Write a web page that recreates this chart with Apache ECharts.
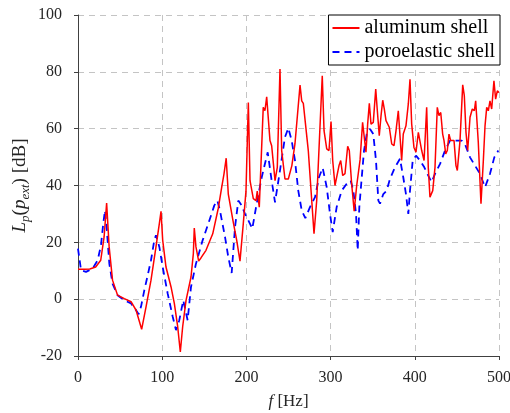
<!DOCTYPE html>
<html>
<head>
<meta charset="utf-8">
<script src="https://cdn.jsdelivr.net/npm/echarts@6/dist/echarts.min.js"></script>
<style>html,body{margin:0;padding:0;background:#fff;}#c{width:510px;height:413px;}</style>
</head>
<body>
<div id="c"></div>
<script>
var xTicks = [0, 100, 200, 300, 400, 500];
var yTicks = [-20, 0, 20, 40, 60, 80, 100];
var seriesNames = ['aluminum shell', 'poroelastic shell'];

var aluminumShell = [
[0,10.5],[8,10.5],[14,10.6],[21,11.3],[27,13.7],[31,21.9],[34,33.8],[37,18.4],[41,6.7],[47,1.4],[55,0.2],[63,-0.9],[69,-3.9],[75.6,-10.6],[80.8,-2.7],[86.7,6.7],[92.6,18.4],[96.6,26.6],[98.6,30.9],[100.6,20.7],[104.5,11.3],[110.5,4.3],[114.4,-1.5],[118.4,-9.7],[121.5,-18.6],[124.3,-9.7],[128.3,-0.4],[134.2,7.8],[137,16],[138.1,25],[140.1,18.4],[143.3,13.4],[146,14.5],[152,17.2],[160,23],[166.6,32],[170.7,39.4],[173.4,44.1],[176,49.6],[178.5,37],[184,27.7],[188.5,20.7],[192.4,13.4],[196.3,26.6],[199.5,38],[202.3,69.2],[204.3,41.7],[208.2,35.4],[211.4,34.7],[212.9,38],[215.3,32.4],[220,67.5],[222,66.3],[224.1,71.2],[228,55.8],[230,54],[234,41.7],[236.7,46.4],[239.9,81],[241.9,52.3],[245.8,42.3],[249.8,42.3],[254,47],[257.7,54.7],[263.7,75.3],[265.7,69.8],[267.6,68.9],[273.5,52.3],[277.6,34.7],[280.3,23],[283.5,34.7],[290.1,78.6],[292.2,59.3],[295.4,52.9],[298.1,52.3],[300.5,62.5],[302.5,48.8],[305.2,40],[307.2,40],[310,47],[312,48.8],[314.4,43.5],[317.1,44.2],[320.3,53.8],[322.2,52.3],[325,40.6],[328,31],[331,40],[335,49],[338,62.2],[340,62.8],[342,51.7],[344,61.6],[346,68.9],[348,61.6],[350.7,62.2],[353.6,73.9],[355.5,66.3],[357.8,57.5],[359.9,64.6],[361.9,70],[363.8,66.9],[365.8,62.8],[367.8,63.4],[369.7,60.5],[372.6,54.6],[375.3,54],[377.7,59.3],[380.4,66.3],[382.4,66.3],[384.4,48.8],[386.3,58.1],[389.5,61],[392.3,68.7],[394.3,77.4],[396.3,61.6],[399,53.4],[401.4,51.7],[404.2,58.7],[406.2,58.7],[408.2,52.3],[411,48.8],[414.1,67.5],[416,46.4],[418,35.9],[421.3,38.2],[424,46.4],[426.7,67.5],[428.7,64.6],[430.8,65.7],[433.1,58.1],[434.7,55.8],[436.7,51.1],[438.6,52.3],[440.6,58.1],[442.6,55.8],[444.5,56],[446.6,55.8],[448.9,47],[450.5,45.3],[453.7,55.8],[456.9,75.4],[458.8,71.6],[460.8,58.7],[462.8,52.3],[465.6,64],[468.3,66.9],[470.7,66.3],[472.3,69.8],[473.5,69.2],[475.4,55.2],[478.6,33.6],[481.4,48.8],[483.4,61],[485.4,67.5],[487.3,66.3],[489.3,69.8],[491.3,66.9],[494,76.8],[496,70.4],[498,73.3],[500,72.7]
];

var poroelasticShell = [
[0,17.8],[3.6,10.2],[9.5,9.6],[17.5,10.8],[23.4,13.7],[27.3,19],[30,26.6],[32,31.2],[34,25.4],[37.2,12.5],[41,5.5],[47,1.4],[55,-0.4],[63,-1.5],[69,-3.9],[72,-5.3],[74.8,-2.7],[78.8,3.2],[82.8,8.4],[86.7,13.7],[90.6,20.7],[92.6,22.5],[96.6,18.4],[100.6,11.3],[106.5,2],[112.5,-6.2],[116.4,-10.9],[120.3,-7.4],[125,-0.4],[127,-0.8],[130.2,-7.4],[134.2,4.3],[140.1,12.5],[148,20.7],[156,27.7],[161.9,33],[165.5,34.7],[168.6,31.2],[174.6,21.9],[178.5,14.8],[182.5,9.2],[186.5,25.4],[190.4,34.7],[194.4,33],[198.3,30],[202.3,27.7],[207,24.8],[212.2,33.6],[218.2,42.9],[225.3,51.7],[230,41.7],[234,34.1],[239.9,45.3],[245.8,57],[249.8,60.2],[253.8,55.8],[257.7,48.8],[261.6,38.2],[265.7,31.2],[270,28.5],[275.5,32.4],[281.5,35.9],[286.2,42.9],[290.6,46.2],[295.4,39.4],[299.3,30],[302.5,23.6],[307.2,32.4],[313.2,38.2],[319.1,40.6],[323.9,41.7],[327,38.2],[330.2,30],[332.2,17.2],[334.1,32.4],[337,42.9],[339.7,52.3],[342.9,58.1],[346.8,59.9],[350.7,58.1],[353.9,48.8],[356.7,34.7],[358.7,33.6],[362.6,37],[366.6,38.2],[370.5,42.3],[376.5,46.4],[382.4,49.4],[386.3,42.9],[389.5,37],[392.3,30],[394.3,38.2],[397.5,48.8],[401.4,50.5],[406.2,48.8],[411.3,46.4],[416,43.5],[420,41.2],[424,44.1],[430,47.6],[435.9,52.3],[441.8,55.8],[447.7,55.8],[455.7,55.8],[459.6,54.6],[465.6,49.9],[471.5,47],[477.4,44.1],[483.4,39.4],[489.3,44.1],[494.4,49.9],[499.2,52.3],[500,52.3]
];

var FONT = 'Liberation Serif';
var chart = echarts.init(document.getElementById('c'), null, {renderer: 'canvas'});
var axisCommon = {
  axisLine: {show: true, onZero: false, lineStyle: {color: '#404040', width: 1}},
  axisTick: {show: true, inside: false, length: 4, lineStyle: {color: '#404040'}},
  splitLine: {show: true, lineStyle: {color: '#c4c4c4', type: [6, 5], width: 1}},
  axisLabel: {color: '#262626', fontFamily: FONT, fontSize: 16}
};
chart.setOption({
  animation: false,
  backgroundColor: '#ffffff',
  grid: {left: 78, right: 11, top: 15, bottom: 57, containLabel: false, outerBoundsMode: 'none'},
  legend: {
    data: seriesNames,
    orient: 'vertical',
    right: 10, top: 15,
    backgroundColor: '#ffffff',
    borderColor: '#000000', borderWidth: 1, borderRadius: 0,
    padding: [3, 5, 3, 3],
    itemGap: 4,
    itemWidth: 27, itemHeight: 14,
    itemStyle: {opacity: 0},
    textStyle: {fontFamily: FONT, fontSize: 20, color: '#000', lineHeight: 20}
  },
  xAxis: Object.assign({}, axisCommon, {
    type: 'value', min: xTicks[0], max: xTicks[xTicks.length - 1], interval: 100,
    name: '{i|f} [Hz]', nameLocation: 'middle', nameGap: 37, nameMoveOverlap: false,
    nameTextStyle: {fontFamily: FONT, fontSize: 17, color: '#262626',
      rich: {i: {fontFamily: FONT, fontStyle: 'italic', fontSize: 17, color: '#262626'}}},
    axisLabel: Object.assign({}, axisCommon.axisLabel, {margin: 14})
  }),
  yAxis: Object.assign({}, axisCommon, {
    type: 'value', min: yTicks[0], max: yTicks[yTicks.length - 1], interval: 20,
    name: '{i|L}{s|p}({i|p}{s|ext}) [dB]', nameLocation: 'middle', nameGap: 58, nameRotate: 90, nameMoveOverlap: false,
    nameTextStyle: {fontFamily: FONT, fontSize: 19, color: '#262626', lineHeight: 24, verticalAlign: 'middle',
      rich: {
        i: {fontFamily: FONT, fontStyle: 'italic', fontSize: 19, color: '#262626', lineHeight: 24, verticalAlign: 'middle'},
        s: {fontFamily: FONT, fontStyle: 'italic', fontSize: 13, color: '#262626', lineHeight: 24, verticalAlign: 'bottom'}
      }},
    axisLabel: Object.assign({}, axisCommon.axisLabel, {margin: 16})
  }),
  series: [
    {name: seriesNames[0], type: 'line', data: aluminumShell, symbol: 'none', showSymbol: false,
      lineStyle: {color: '#ff0000', width: 1.5}, itemStyle: {color: '#ff0000'}, z: 3},
    {name: seriesNames[1], type: 'line', data: poroelasticShell, symbol: 'none', showSymbol: false,
      lineStyle: {color: '#0000ff', width: 1.8, type: [7, 5]}, itemStyle: {color: '#0000ff'}, z: 2}
  ]
});
</script>
</body>
</html>
